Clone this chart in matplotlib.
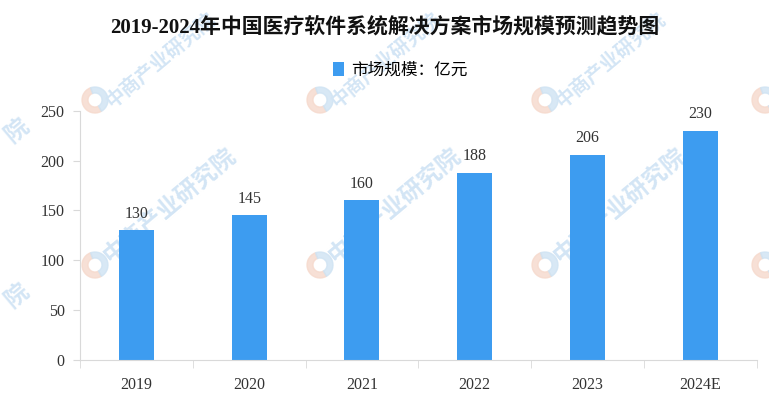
import matplotlib
matplotlib.use("Agg")
import matplotlib.pyplot as plt
from matplotlib.patches import Wedge

plt.rcParams['font.family'] = ['Liberation Serif', 'Noto Sans CJK SC', 'DejaVu Sans']

years = ['2019', '2020', '2021', '2022', '2023', '2024E']
market_size = [130, 145, 160, 188, 206, 230]
yticks = [0, 50, 100, 150, 200, 250]
title = '2019-2024年中国医疗软件系统解决方案市场规模预测趋势图'
legend_label = '市场规模：亿元'
watermark = '中商产业研究院'

bar_color = '#3d9cf0'
axis_color = '#d9d9d9'
text_color = '#333333'
wm_color = '#d3e5f5'

fig = plt.figure(figsize=(7.69, 4.08), dpi=100)

# watermark layer, in pixel coords
wm = fig.add_axes([0, 0, 1, 1], zorder=0)
wm.set_xlim(0, 769)
wm.set_ylim(408, 0)
wm.axis('off')
logo_pos = [(95, 100), (320, 100), (545, 100), (765, 100),
            (95, 265), (320, 265), (545, 265), (765, 265)]
for lx, ly in logo_pos:
    wm.add_patch(Wedge((lx, ly), 13, 60, 250, width=6, color='#f6d9cc', alpha=0.8))
    wm.add_patch(Wedge((lx, ly), 13, 250, 420, width=6, color='#cfe3f3', alpha=0.8))
    if lx > 700:
        continue
    if ly < 150:
        wm.text(lx + 65, ly - 40, watermark, rotation=40, fontsize=14,
                color=wm_color, ha='center', va='center', family='Noto Sans CJK SC',
                fontweight='bold')
    else:
        wm.text(lx + 75, ly - 60, watermark, rotation=40, fontsize=17,
                color=wm_color, ha='center', va='center', family='Noto Sans CJK SC',
                fontweight='bold')
for ly in (130, 295):
    wm.text(16, ly, '院', rotation=40, fontsize=17, color=wm_color,
            ha='center', va='center', family='Noto Sans CJK SC', fontweight='bold')

ax = fig.add_axes([0.104, 0.1176, 0.880, 0.611], zorder=1)
ax.patch.set_alpha(0)

x = range(len(years))
bars = ax.bar(x, market_size, width=0.31, color=bar_color, label=legend_label, zorder=2)
for xi, v in zip(x, market_size):
    ax.annotate(str(v), (xi, v), xytext=(0, 6), textcoords='offset points',
                ha='center', va='bottom', fontsize=11.5, color=text_color)

ax.set_xlim(-0.5, len(years) - 0.5)
ax.set_ylim(0, 250)
ax.set_yticks(yticks)
ax.set_xticks(list(x))
ax.set_xticklabels(years)
ax.set_xticks([i - 0.5 for i in range(len(years) + 1)], minor=True)
ax.tick_params(axis='x', which='major', length=0, pad=12, labelsize=11.5, labelcolor=text_color)
ax.tick_params(axis='x', which='minor', length=6, color=axis_color)
ax.tick_params(axis='y', length=5, color=axis_color, labelsize=11.5, labelcolor=text_color, pad=6)

for s in ['top', 'right']:
    ax.spines[s].set_visible(False)
for s in ['left', 'bottom']:
    ax.spines[s].set_color(axis_color)

fig.text(0.5, 0.934, title, ha='center', va='center', fontsize=15,
         fontweight='bold', color='#111111')
ax.legend(loc='center', bbox_to_anchor=(0.473, 1.163), frameon=False,
          handlelength=0.7, handleheight=0.9, handletextpad=0.4,
          prop={'family': ['Noto Sans CJK SC'], 'size': 12})

fig.savefig('out.png', dpi=100)
